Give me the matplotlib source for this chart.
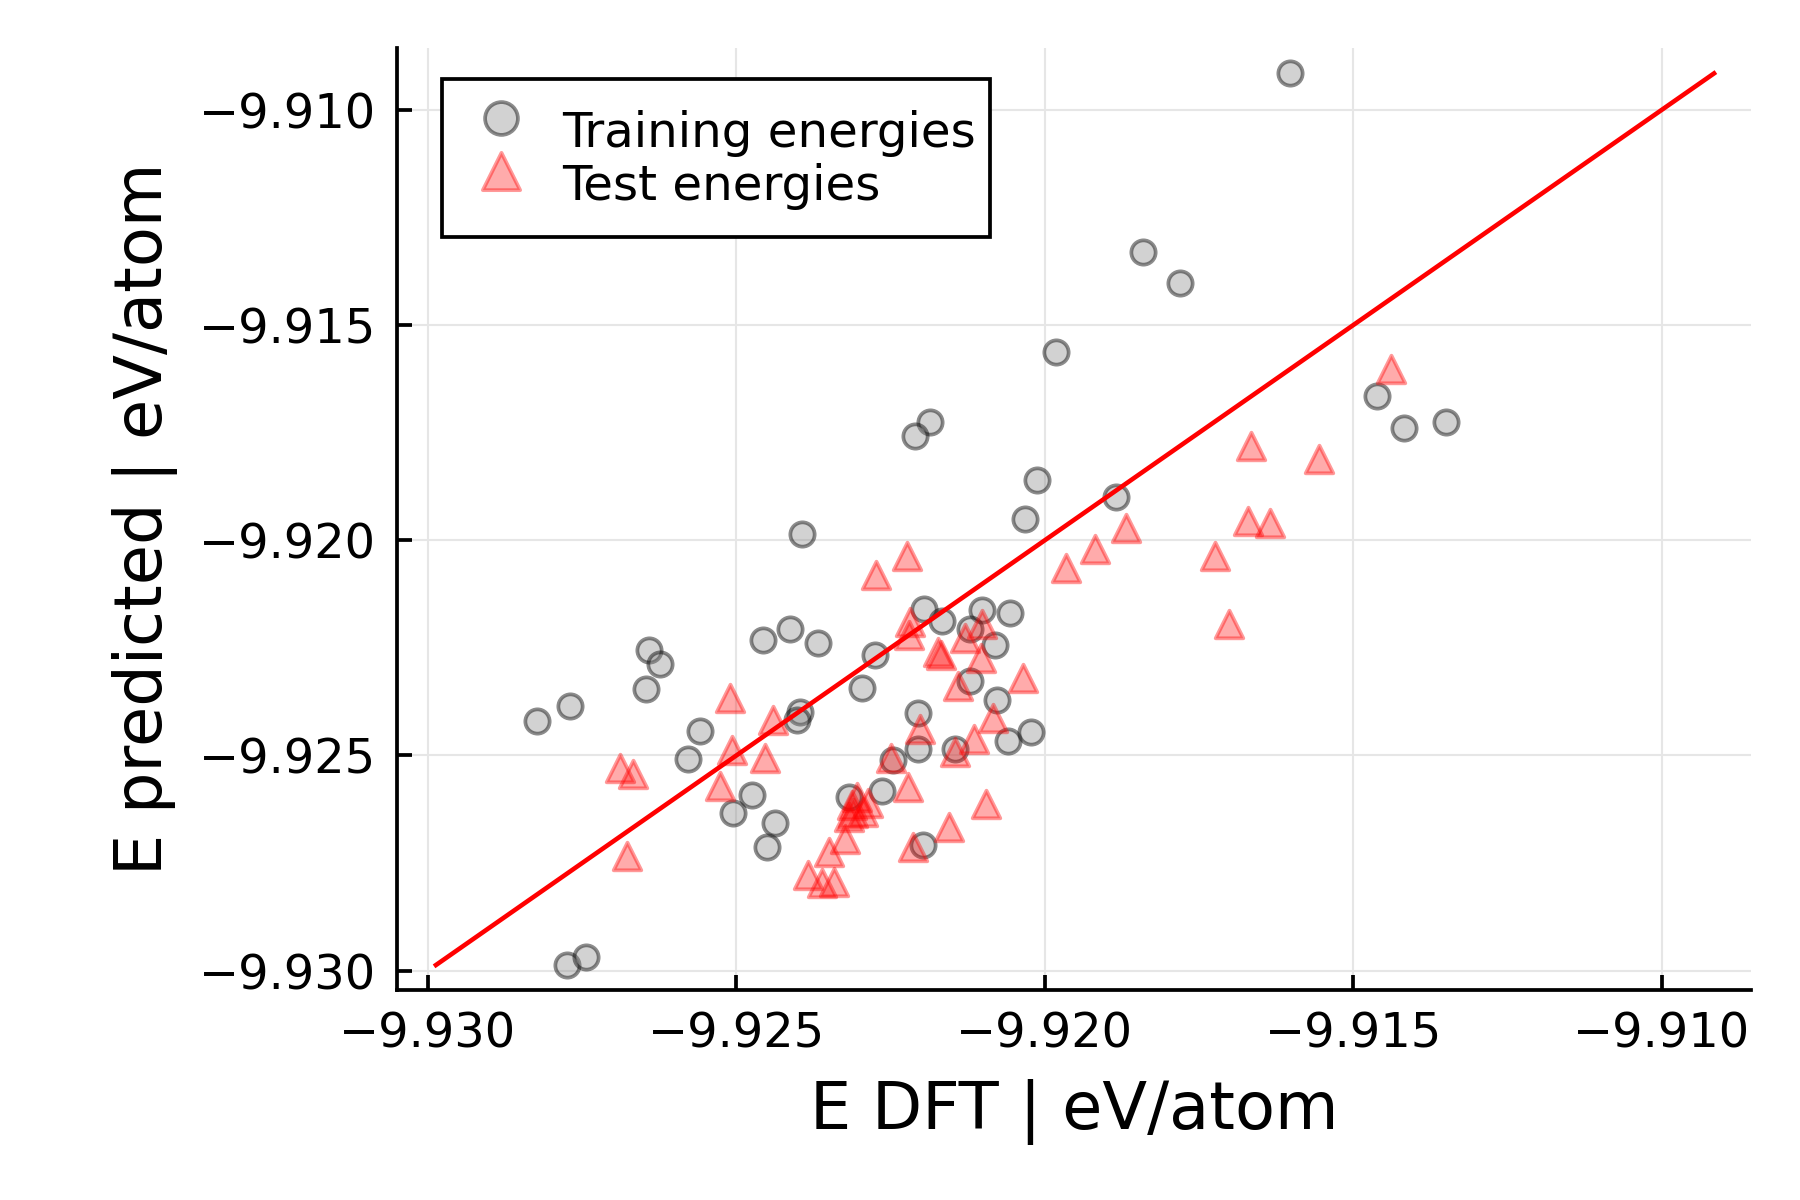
import matplotlib.pyplot as plt
import numpy as np

# DFT vs predicted energies (eV/atom)
train_dft = [-9.91603, -9.91840, -9.91780, -9.91981, -9.91462, -9.91417, -9.91350,
             -9.92186, -9.92210, -9.92013, -9.91885, -9.92032, -9.92393, -9.92196,
             -9.92102, -9.92056, -9.92166, -9.92121, -9.92080, -9.92413, -9.92456,
             -9.92367, -9.92642, -9.92624, -9.92276, -9.92646, -9.92296, -9.92121,
             -9.92078, -9.92397, -9.92402, -9.92205, -9.92823, -9.92769, -9.92559,
             -9.92579, -9.92205, -9.92145, -9.92060, -9.92022, -9.92246, -9.92475,
             -9.92505, -9.92318, -9.92264, -9.92438, -9.92451, -9.92197, -9.92775,
             -9.92743]
train_pred = [-9.90915, -9.91331, -9.91401, -9.91563, -9.91665, -9.91740, -9.91726,
              -9.91724, -9.91758, -9.91860, -9.91900, -9.91951, -9.91985, -9.92159,
              -9.92162, -9.92170, -9.92188, -9.92207, -9.92244, -9.92207, -9.92231,
              -9.92239, -9.92255, -9.92287, -9.92266, -9.92346, -9.92343, -9.92327,
              -9.92370, -9.92399, -9.92418, -9.92402, -9.92421, -9.92386, -9.92442,
              -9.92509, -9.92485, -9.92485, -9.92466, -9.92445, -9.92511, -9.92591,
              -9.92634, -9.92597, -9.92583, -9.92658, -9.92712, -9.92709, -9.92987,
              -9.92968]

test_dft = [-9.91439, -9.91665, -9.91555, -9.91670, -9.91635, -9.91918, -9.91868,
            -9.91965, -9.91724, -9.91702, -9.92223, -9.92274, -9.92218, -9.92220,
            -9.92173, -9.92169, -9.92130, -9.92101, -9.92104, -9.92035, -9.92140,
            -9.92084, -9.92203, -9.92114, -9.92145, -9.92250, -9.92222, -9.92095,
            -9.92156, -9.92214, -9.92313, -9.92304, -9.92287, -9.92311, -9.92317,
            -9.92294, -9.92324, -9.92350, -9.92384, -9.92361, -9.92341, -9.92510,
            -9.92441, -9.92507, -9.92454, -9.92527, -9.92689, -9.92667, -9.92678]
test_pred = [-9.91603, -9.91782, -9.91812, -9.91956, -9.91959, -9.92020, -9.91972,
             -9.92065, -9.92036, -9.92194, -9.92036, -9.92081, -9.92191, -9.92220,
             -9.92260, -9.92266, -9.92228, -9.92194, -9.92274, -9.92319, -9.92338,
             -9.92413, -9.92439, -9.92461, -9.92493, -9.92506, -9.92573, -9.92613,
             -9.92666, -9.92712, -9.92616, -9.92597, -9.92610, -9.92634, -9.92642,
             -9.92632, -9.92693, -9.92725, -9.92778, -9.92797, -9.92794, -9.92367,
             -9.92418, -9.92487, -9.92506, -9.92570, -9.92530, -9.92543, -9.92733]

tick_vals = [-9.930, -9.925, -9.920, -9.915, -9.910]
tick_labels = ['\u22129.930', '\u22129.925', '\u22129.920', '\u22129.915', '\u22129.910']

plt.rcParams['font.family'] = ['DejaVu Sans']

fig = plt.figure(figsize=(6, 4), dpi=300, facecolor='white')
ax = fig.add_axes([0.2206, 0.175, 0.7522, 0.785])

ax.scatter(train_dft, train_pred, s=34, marker='o',
           facecolor=(0.5, 0.5, 0.5, 0.35), edgecolor=(0.0, 0.0, 0.0, 0.45),
           linewidth=0.9, label='Training energies', zorder=3)
ax.scatter(test_dft, test_pred, s=44, marker='^',
           facecolor=(1.0, 0.0, 0.0, 0.33), edgecolor=(1.0, 0.0, 0.0, 0.4),
           linewidth=0.9, label='Test energies', zorder=3)

# identity line over the full data range
all_vals = np.concatenate([train_dft, train_pred, test_dft, test_pred])
lo, hi = all_vals.min(), all_vals.max()
ax.plot([lo, hi], [lo, hi], color='red', linewidth=1.1, zorder=4)

ax.set_xlim(-9.9305, -9.90855)
ax.set_ylim(-9.93045, -9.90856)
ax.set_xticks(tick_vals)
ax.set_xticklabels(tick_labels)
ax.set_yticks(tick_vals)
ax.set_yticklabels(tick_labels)

ax.grid(True, color='#e6e6e6', linewidth=0.5, zorder=0)
ax.set_axisbelow(True)
for side in ['top', 'right']:
    ax.spines[side].set_visible(False)
for side in ['left', 'bottom']:
    ax.spines[side].set_linewidth(0.9)
ax.tick_params(direction='in', length=3.5, width=0.9, labelsize=11.5, pad=5)

ax.set_xlabel('E DFT | eV/atom', fontsize=15.7, labelpad=5)
ax.set_ylabel('E predicted | eV/atom', fontsize=15.7, labelpad=5)

leg = ax.legend(loc='upper left', bbox_to_anchor=(0.033, 0.967), borderaxespad=0,
                fontsize=11.6, fancybox=False, framealpha=1, edgecolor='black',
                handletextpad=0.33, labelspacing=-0.5, borderpad=0.3,
                handlelength=1.86, handleheight=2.06, markerscale=1.35)
leg.get_frame().set_linewidth(0.9)

fig.savefig('out.png', dpi=300, facecolor='white')
